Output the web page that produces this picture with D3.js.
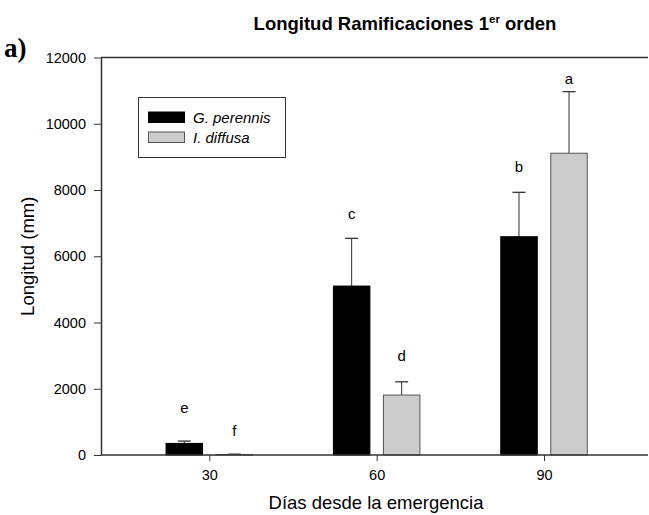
<!DOCTYPE html>
<html>
<head>
<meta charset="utf-8">
<script src="https://cdn.jsdelivr.net/npm/d3@7/dist/d3.min.js"></script>
<style>
  html, body { margin: 0; padding: 0; background: #fff; }
  svg { display: block; font-family: Arial, "Liberation Sans", sans-serif; }
</style>
</head>
<body>
<svg id="chart" width="649" height="515"></svg>
<script>
// Days since emergence (x categories)
const days = [30, 60, 90];
// Mean length (mm) of first-order branches
const gPerennis = [350, 5100, 6590];
const iDiffusa = [15, 1810, 9110];
// Standard error (upward bars only)
const gPerennisErr = [70, 1440, 1340];
const iDiffusaErr = [10, 400, 1860];
// Significance letters and the height (mm) at which each sits
const gLetters = ["e", "c", "b"];
const iLetters = ["f", "d", "a"];
const gLetterAt = [1280, 7110, 8530];
const iLetterAt = [575, 2840, 11200];
// Axis ticks
const yTicks = [0, 2000, 4000, 6000, 8000, 10000, 12000];
const seriesNames = ["G. perennis", "I. diffusa"];
const seriesColors = ["#000000", "#cccccc"];

const svg = d3.select("#chart");

const plotLeft = 101, plotRight = 648, plotTop = 57.5, plotBottom = 455;

const y = d3.scaleLinear().domain([0, 12000]).range([plotBottom, plotTop]);
const x = d3.scaleLinear().domain([30, 90]).range([209.3, 544]);

const barW = 36.5, offset = 25;
const ink = "#333";
const tickFont = 14.5;

// Title
const title = svg.append("text")
  .attr("x", 405).attr("y", 30)
  .attr("text-anchor", "middle")
  .attr("font-weight", "bold")
  .attr("font-size", 18.5);
title.append("tspan").text("Longitud Ramificaciones 1");
title.append("tspan").attr("dy", -7).attr("font-size", 11.5).text("er");
title.append("tspan").attr("dy", 7).text(" orden");

// Panel tag
svg.append("text")
  .attr("x", 4).attr("y", 57)
  .attr("font-family", "'Liberation Serif', 'Times New Roman', serif")
  .attr("font-weight", "bold")
  .attr("font-size", 27)
  .text("a)");

// Y axis
const yAxis = svg.append("g")
  .attr("transform", `translate(${plotLeft},0)`)
  .call(d3.axisLeft(y).tickValues(yTicks).tickFormat(d3.format("d")).tickSize(7).tickSizeOuter(0).tickPadding(8));
yAxis.select(".domain").attr("stroke", ink).attr("stroke-width", 1.5);
yAxis.selectAll(".tick line").attr("stroke", ink).attr("stroke-width", 1);
yAxis.selectAll(".tick text").attr("font-size", tickFont).attr("fill", "#000")
  .attr("font-family", "Arial, 'Liberation Sans', sans-serif");

// Top frame line
svg.append("line")
  .attr("x1", plotLeft).attr("x2", plotRight)
  .attr("y1", y(12000)).attr("y2", y(12000))
  .attr("stroke", ink).attr("stroke-width", 1.5);

// Bars
const series = [
  { vals: gPerennis, err: gPerennisErr, letters: gLetters, letterAt: gLetterAt, dx: -offset, color: seriesColors[0] },
  { vals: iDiffusa, err: iDiffusaErr, letters: iLetters, letterAt: iLetterAt, dx: offset, color: seriesColors[1] }
];

series.forEach(s => {
  const g = svg.append("g");
  const data = days.map((d, i) => ({ day: d, v: s.vals[i], e: s.err[i], l: s.letters[i], la: s.letterAt[i] }));

  // error bars (drawn first, upward only)
  g.selectAll("line.err").data(data).join("line").attr("class", "err")
    .attr("x1", d => x(d.day) + s.dx).attr("x2", d => x(d.day) + s.dx)
    .attr("y1", d => y(d.v)).attr("y2", d => y(d.v + d.e))
    .attr("stroke", ink).attr("stroke-width", 1);
  g.selectAll("line.cap").data(data).join("line").attr("class", "cap")
    .attr("x1", d => x(d.day) + s.dx - 6.5).attr("x2", d => x(d.day) + s.dx + 6.5)
    .attr("y1", d => y(d.v + d.e)).attr("y2", d => y(d.v + d.e))
    .attr("stroke", ink).attr("stroke-width", 1.3);

  g.selectAll("rect").data(data).join("rect")
    .attr("x", d => x(d.day) + s.dx - barW / 2)
    .attr("width", barW)
    .attr("y", d => y(d.v))
    .attr("height", d => y(0) - y(d.v))
    .attr("fill", s.color)
    .attr("stroke", s.color === "#000000" ? "#000" : "#555")
    .attr("stroke-width", 1);

  g.selectAll("text").data(data).join("text")
    .attr("x", d => x(d.day) + s.dx)
    .attr("y", d => y(d.la))
    .attr("text-anchor", "middle")
    .attr("font-size", 15)
    .text(d => d.l);
});

// X axis
const xAxis = svg.append("g")
  .attr("transform", `translate(0,${plotBottom})`)
  .call(d3.axisBottom(x).tickValues(days).tickSize(6).tickSizeOuter(0).tickPadding(9));
xAxis.select(".domain").remove();
xAxis.selectAll(".tick line").attr("stroke", ink).attr("stroke-width", 1);
xAxis.selectAll(".tick text").attr("font-size", tickFont).attr("fill", "#000")
  .attr("font-family", "Arial, 'Liberation Sans', sans-serif");
svg.append("line")
  .attr("x1", plotLeft).attr("x2", plotRight)
  .attr("y1", plotBottom).attr("y2", plotBottom)
  .attr("stroke", ink).attr("stroke-width", 1.5);

// Axis titles
svg.append("text")
  .attr("x", 376).attr("y", 509)
  .attr("text-anchor", "middle")
  .attr("font-size", 18.5)
  .text("Días desde la emergencia");
svg.append("text")
  .attr("transform", `translate(34,${(plotTop + plotBottom) / 2}) rotate(-90)`)
  .attr("text-anchor", "middle")
  .attr("font-size", 18.5)
  .text("Longitud (mm)");

// Legend
const lg = svg.append("g");
lg.append("rect")
  .attr("x", 138.5).attr("y", 97.5).attr("width", 147).attr("height", 60)
  .attr("fill", "#fff").attr("stroke", ink).attr("stroke-width", 1);
seriesNames.forEach((name, i) => {
  lg.append("rect")
    .attr("x", 148.5).attr("y", 112 + i * 20).attr("width", 36).attr("height", 10.5)
    .attr("fill", seriesColors[i]).attr("stroke", i === 0 ? "#000" : "#555").attr("stroke-width", 1);
  lg.append("text")
    .attr("x", 193).attr("y", 123 + i * 20)
    .attr("font-style", "italic")
    .attr("font-size", 15)
    .text(name);
});
</script>
</body>
</html>
